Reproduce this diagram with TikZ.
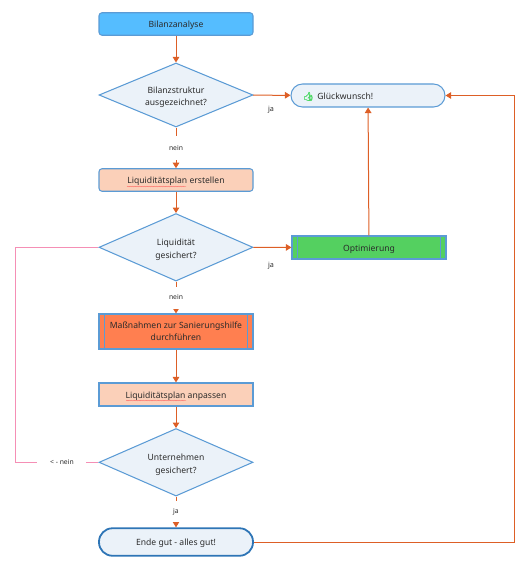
\documentclass[tikz,border=0pt]{standalone}
\usepackage{fontspec}
\setmainfont{Noto Sans}
\newfontfamily\emojifont[FakeBold=3]{Noto Emoji}
\usetikzlibrary{arrows.meta,shapes.geometric,decorations.pathmorphing}
\definecolor{flowblue}{HTML}{5B9BD5}
\definecolor{deepblue}{HTML}{2E75B6}
\definecolor{paleblue}{HTML}{EBF2F9}
\definecolor{skyfill}{HTML}{55BDFF}
\definecolor{salmon}{HTML}{FBD0B9}
\definecolor{greenfill}{HTML}{54D060}
\definecolor{coral}{HTML}{FF7F50}
\definecolor{edgeorange}{HTML}{DD5F26}
\definecolor{edgepink}{HTML}{F58FB5}
\definecolor{thumbgreen}{HTML}{4CD964}
\definecolor{inktext}{HTML}{2B2B2B}
\newcommand{\dropone}{\rule{0pt}{9.3pt}}
\newcommand{\droptwo}{\rule{0pt}{11.5pt}}
\tikzset{
  x=1pt,y=-1pt,
  every node/.style={font=\fontsize{8.6}{12.4}\selectfont,text=inktext,align=center},
  boxbase/.style={draw=flowblue,line width=1.05pt,minimum width=154pt,inner sep=0pt},
  stepbox/.style={boxbase,minimum height=22.5pt,rounded corners=3pt},
  plainbox/.style={boxbase,rounded corners=0pt},
  procbox/.style={plainbox,path picture={
    \draw[flowblue,line width=1.05pt] ([xshift=5.2pt]path picture bounding box.north west) -- ([xshift=5.2pt]path picture bounding box.south west);
    \draw[flowblue,line width=1.05pt] ([xshift=-5.2pt]path picture bounding box.north east) -- ([xshift=-5.2pt]path picture bounding box.south east);}},
  decision/.style={diamond,aspect=2.4,draw=flowblue,line width=1.05pt,fill=paleblue,inner sep=0pt,minimum width=154pt},
  pill/.style={boxbase,fill=paleblue},
  flow/.style={draw=edgeorange,line width=1pt,-{Triangle[length=5.5pt,width=6.5pt]}},
  altflow/.style={draw=edgepink,line width=1pt},
  edgelabel/.style={fill=white,inner xsep=1pt,inner ysep=0pt,font=\fontsize{6.8}{8}\selectfont},
  sidelabel/.style={font=\fontsize{7.2}{8}\selectfont},
  squiggle/.style={draw=red!70!white,line width=0.25pt,decorate,decoration={snake,amplitude=0.4pt,segment length=2.4pt}}
}
\begin{document}
\begin{tikzpicture}
\useasboundingbox (0,0) rectangle (525,572);
\node[stepbox,fill=skyfill] (start) at (176,24) {\dropone Bilanzanalyse};
\node[decision,minimum height=64pt] (d1) at (176,95) {\droptwo Bilanzstruktur\\ausgezeichnet?};
\node[stepbox,fill=salmon] (plan) at (176,180) {\dropone Liquiditätsplan erstellen};
\node[decision,minimum height=67.5pt] (d2) at (176,247.3) {\droptwo Liquidität\\gesichert?};
\node[procbox,fill=coral,minimum height=35pt] (mass) at (176,331.5) {Maßnahmen zur Sanierungshilfe\\durchführen};
\node[plainbox,fill=salmon,minimum height=23pt] (anp) at (176,394.5) {\dropone Liquiditätsplan anpassen};
\node[decision,minimum height=67.5pt] (d3) at (176,462.3) {\droptwo Unternehmen\\gesichert?};
\node[pill,draw=deepblue,line width=1.8pt,minimum height=27.5pt,rounded corners=13.5pt] (ende) at (176,542) {\dropone Ende gut - alles gut!};
\node[pill,minimum height=23pt,rounded corners=11.5pt,text width=134pt,align=left] (glueck) at (368,95.5) {\hspace*{2pt}\dropone{\emojifont\textcolor{thumbgreen}{\char"1F44D}}\hspace{3.5pt}Glückwunsch!};
\node[procbox,fill=greenfill,minimum height=23pt] (opt) at (369,247.5) {\dropone Optimierung};
\node[sidelabel] (ja1) at (271,110) {ja};
\node[sidelabel] (ja2) at (271,265.5) {ja};
\coordinate (r1) at (514,542);
\coordinate (r2) at (514,95.5);
\coordinate (p1) at (15.5,247.3);
\coordinate (p2) at (15.5,462.3);

\draw[flow] (start) -- (d1);
\draw[flow] (d1) -- node[edgelabel,minimum height=24pt,pos=0.5]{nein} (plan);
\draw[flow] (plan) -- (d2);
\draw[flow] (d2) -- node[edgelabel,minimum height=22pt,pos=0.5]{nein} (mass);
\draw[flow] (mass) -- (anp);
\draw[flow] (anp) -- (d3);
\draw[flow] (d3) -- node[edgelabel,minimum height=21pt,pos=0.5]{ja} (ende);
\draw[flow] (d1) -- (glueck);
\draw[flow] (d2) -- (opt);
\draw[flow] (opt) -- (glueck);
\draw[flow] (ende) -- (r1) -- (r2) -- (glueck);
\draw[altflow] (d2.west) -- (p1) -- (p2) -- node[edgelabel,minimum width=49pt,minimum height=10pt,pos=0.56]{< - nein} (d3.west);
\draw[squiggle] (127,186.5) -- (186,186.5);
\draw[squiggle] (126,400.5) -- (186,400.5);
\end{tikzpicture}
\end{document}
